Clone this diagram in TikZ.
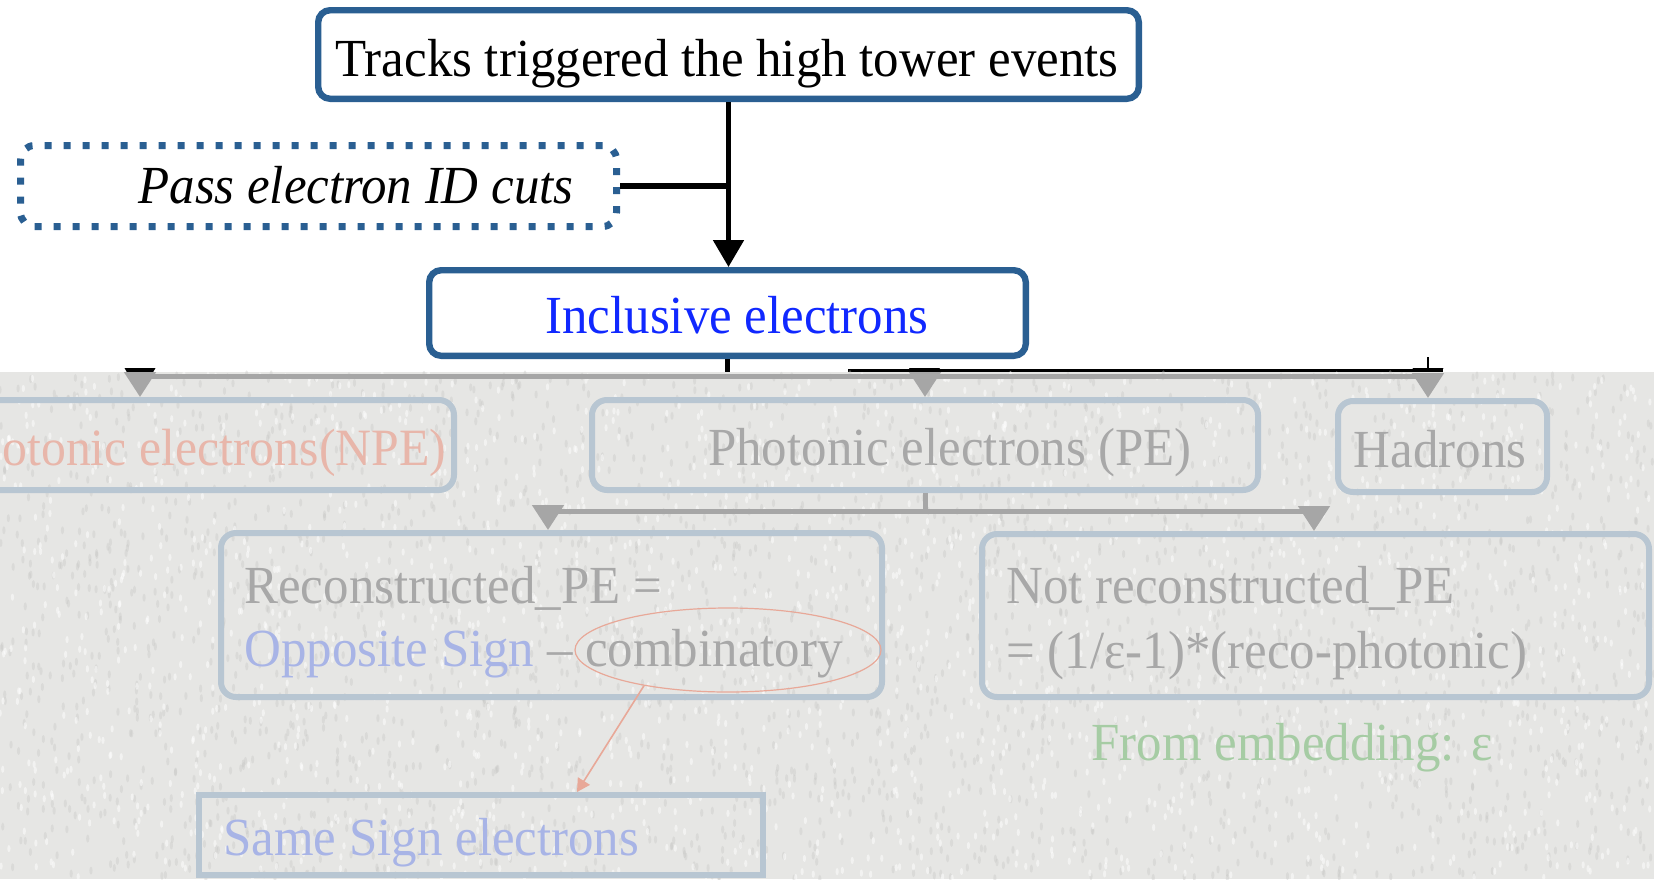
\documentclass[tikz,border=0pt]{standalone}
\usepackage{fontspec}
\setmainfont{Liberation Serif}[FakeStretch=0.95]
\usetikzlibrary{arrows.meta,shapes.geometric,calc}

\definecolor{frameblue}{RGB}{42,95,146}
\definecolor{inclblue}{RGB}{16,40,255}
\definecolor{haze}{RGB}{230,230,228}
\definecolor{grain}{RGB}{196,196,194}
\definecolor{fadeframe}{RGB}{184,198,210}
\definecolor{fadetext}{RGB}{168,168,168}
\definecolor{fadearrow}{RGB}{166,166,166}
\definecolor{fadered}{RGB}{232,182,170}
\definecolor{fadeblue}{RGB}{168,180,230}
\definecolor{fadegreen}{RGB}{166,204,164}
\definecolor{fadeline}{RGB}{232,168,152}

\begin{document}
\begin{tikzpicture}[x=0.5pt,y=-0.5pt,
  txt/.style={font=\fontsize{26.8}{32}\selectfont, inner sep=0pt},
  mainbox/.style={draw=frameblue, line width=3.2pt, rounded corners=6pt, fill=white, inner sep=0pt},
  cutbox/.style={draw=frameblue, line width=3.5pt, rounded corners=7pt, dash pattern=on 3.5pt off 6pt, inner sep=0pt},
  fadebox/.style={draw=fadeframe, line width=3pt, rounded corners=7.5pt, inner sep=0pt},
  link/.style={line width=2.6pt, black},
  fadelink/.style={line width=2.5pt, fadearrow},
  tip/.style={-{Triangle[width=15pt,length=13.5pt]}},
  fadetip/.style={-{Triangle[width=15.5pt,length=12.5pt]}},
]
\useasboundingbox (0,0) rectangle (1654,879);
\clip (0,0) rectangle (1654,879);
\fill[white] (0,0) rectangle (1654,879);

% ---------- upper part of the flow ----------
\node[mainbox, minimum width=410.3pt, minimum height=44.3pt] (top) at (728.5,54.5) {};
\node[txt, anchor=base] (toptext) at (727,76) {Tracks triggered the high tower events};

\node[cutbox, minimum width=298pt, minimum height=40.5pt] (pass) at (318.5,186) {};
\node[txt, anchor=base] (passtext) at (356,203) {\itshape Pass electron ID cuts};

\node[mainbox, minimum width=298.3pt, minimum height=42.8pt] (incl) at (727.5,313) {};
\node[txt, anchor=base, text=inclblue] (incltext) at (737,333) {Inclusive electrons};

\draw[link, tip] (top.south) -- (top.south |- incl.north);
\draw[link] (pass.east) -- (pass.east -| top.south);

% split below the inclusive box
\coordinate (busL) at (140,376);
\coordinate (busR) at (1428,376);
\draw[link] (incl.south) -- (incl.south |- busL);

% black ends of the split that stay above the hazy layer
\coordinate (kL) at (848,370);
\coordinate (kR) at (1443,370);
\draw[line width=1.5pt] (kL) -- (kR);
\draw[line width=1.3pt] (1428,357) -- (1428,370);
\fill (124.5,368) -- (155.5,368) -- (140,395) -- cycle;
\fill (909,368) -- (940,368) -- (924.5,395) -- cycle;
\fill (1412.5,368) -- (1443.5,368) -- (1428,395) -- cycle;

% hazy layer with a fine grain
\fill[haze] (0,372) rectangle (1654,879);
\pgfmathsetseed{4242}
\foreach \i in {1,...,2600}{
  \pgfmathsetmacro\gx{rnd*1654}
  \pgfmathsetmacro\gy{374+rnd*505}
  \fill[grain, opacity=0.35] (\gx,\gy) ellipse (0.8pt and 2pt);
}
\foreach \i in {1,...,1800}{
  \pgfmathsetmacro\gx{rnd*1654}
  \pgfmathsetmacro\gy{374+rnd*505}
  \fill[white, opacity=0.5] (\gx,\gy) ellipse (0.8pt and 1.8pt);
}

% ---------- faded lower part ----------
\node[fadebox, minimum width=275.5pt, minimum height=45pt] (npe) at (178.5,445) {};
\node[fadebox, minimum width=333pt, minimum height=45pt] (pe) at (925,445) {};
\node[fadebox, minimum width=104.5pt, minimum height=45.5pt] (had) at (1442.5,446.5) {};
\node[txt, font=\fontsize{26.2}{32}\selectfont, anchor=base west, text=fadered] (npetext) at (2,465) {otonic electrons(NPE)};
\node[txt, anchor=base, text=fadetext] (petext) at (950,465) {Photonic electrons (PE)};
\node[txt, anchor=base, text=fadetext] (hadtext) at (1440,467) {Hadrons};

\draw[fadelink] (busL) -- (busR);
\draw[fadelink, fadetip] (busL) -- (busL |- npe.north);
\draw[fadelink, fadetip] (pe.north |- busL) -- (pe.north);
\draw[fadelink, fadetip] (busR) -- (busR |- had.north);

\node[fadebox, minimum width=330.5pt, minimum height=82pt] (reco) at (551.5,615) {};
\node[fadebox, minimum width=333.5pt, minimum height=81.5pt] (notreco) at (1315.5,615.5) {};
\node[fadebox, rounded corners=0pt, minimum width=282pt, minimum height=40pt] (same) at (481,835) {};

\coordinate (b2L) at (548,511);
\coordinate (b2R) at (1314,511);
\draw[fadelink] (pe.south) -- (pe.south |- b2L);
\draw[fadelink] (b2L) -- (b2R);
\draw[fadelink, fadetip] (b2L) -- (b2L |- reco.north);
\draw[fadelink, fadetip] (b2R) -- (b2R |- notreco.north);

\node[txt, anchor=base west, text=fadetext] (recoA) at (244,603) {Reconstructed\_PE =};
\node[txt, anchor=base west, text=fadetext] (recoB) at (244,666) {\textcolor{fadeblue}{Opposite Sign} – combinatory};
\node[txt, anchor=base west, text=fadetext] (notA) at (1006,603) {Not reconstructed\_PE};
\node[txt, anchor=base west, text=fadetext] (notB) at (1006,668) {= (1/ε-1)*(reco-photonic)};
\node[txt, anchor=base west, text=fadegreen] (embed) at (1091,760) {From embedding: ε};
\node[txt, anchor=base west, text=fadeblue] (sametext) at (223,855) {Same Sign electrons};

\node[ellipse, draw=fadeline, line width=0.6pt, minimum width=153pt, minimum height=42pt, inner sep=0pt] (ell) at (728,650) {};
\draw[fadeline, line width=0.8pt, -{Triangle[width=7pt,length=6.5pt]}] (ell.203) -- ($(same.north)+(96,0)$);
\end{tikzpicture}
\end{document}
